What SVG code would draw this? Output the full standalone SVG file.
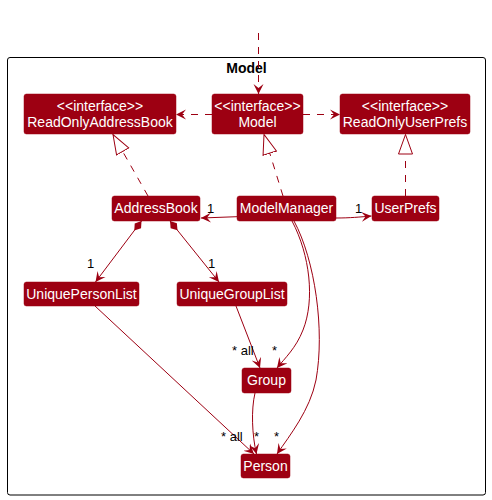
<svg xmlns="http://www.w3.org/2000/svg" width="492" height="500" viewBox="0 0 492 500">
<style>
.n rect{fill:#9D0012;stroke:#9D0012;stroke-width:0.5}
.n text{fill:#FFFFFF;font-family:"Liberation Sans",Arial,sans-serif;font-size:14px;text-anchor:middle}
.e{fill:none;stroke:#9D0012;stroke-width:1}
.d{stroke-dasharray:7,7}
.lbl{fill:#000;font-family:"Liberation Sans",Arial,sans-serif;font-size:13px}
</style>
<defs>
<marker id="arr" markerUnits="userSpaceOnUse" markerWidth="12" markerHeight="12" refX="10" refY="5" orient="auto" viewBox="0 0 12 10">
<path d="M10,5 L0,0 L4,5 L0,10 Z" fill="#9D0012"/>
</marker>
<marker id="tri" markerUnits="userSpaceOnUse" markerWidth="22" markerHeight="16" refX="20" refY="7.5" orient="auto" viewBox="0 0 22 15">
<path d="M0.5,0.5 L20,7.5 L0.5,14.5 Z" fill="#FFFFFF" stroke="#9D0012" stroke-width="1"/>
</marker>
<marker id="dia" markerUnits="userSpaceOnUse" markerWidth="13" markerHeight="9" refX="0" refY="4" orient="auto" viewBox="0 0 13 8">
<path d="M0,4 L6,0 L12,4 L6,8 Z" fill="#9D0012"/>
</marker>
</defs>
<g id="frame">
<rect x="7.5" y="57.5" width="478" height="437.5" rx="2.5" fill="none" stroke="#000" stroke-width="1"/>
<text x="246.5" y="73" font-family="Liberation Sans,Arial,sans-serif" font-size="14" font-weight="bold" text-anchor="middle" fill="#000">Model</text>
</g>
<g id="connectors">
<path class="e d" d="M258.5,33 L258.5,94" marker-end="url(#arr)"/>
<path class="e d" d="M212,114.5 L176,114.5" marker-end="url(#arr)"/>
<path class="e d" d="M303,114.5 L340,114.5" marker-end="url(#arr)"/>
<path class="e d" d="M148,196 L113,134.5" marker-end="url(#tri)"/>
<path class="e d" d="M283,196 L264,134.5" marker-end="url(#tri)"/>
<path class="e d" d="M405.5,196 L405.5,134.5" marker-end="url(#tri)"/>
<path class="e" d="M237,216.7 L201,218" marker-end="url(#arr)"/>
<path class="e" d="M336,218 C350,218 360,217 371.5,216" marker-end="url(#arr)"/>
<path class="e" d="M141.5,221 L95.5,282" marker-start="url(#dia)" marker-end="url(#arr)"/>
<path class="e" d="M170,221 L219,282" marker-start="url(#dia)" marker-end="url(#arr)"/>
<path class="e" d="M292,221 C310,255 315,300 303,330 C296,348 285,358 277,368" marker-end="url(#arr)"/>
<path class="e" d="M294,221 C315,260 325,330 316,380 C310,410 290,435 277,454" marker-end="url(#arr)"/>
<path class="e" d="M236,306 L260,368" marker-end="url(#arr)"/>
<path class="e" d="M95,306 L254,454" marker-end="url(#arr)"/>
<path class="e" d="M255,393 C251,410 252,435 256.5,454" marker-end="url(#arr)"/>
<text class="lbl" x="207" y="213">1</text>
<text class="lbl" x="355" y="213">1</text>
<text class="lbl" x="87" y="268">1</text>
<text class="lbl" x="208" y="268">1</text>
<text class="lbl" x="232" y="355">* all</text>
<text class="lbl" x="272" y="355">*</text>
<text class="lbl" x="221" y="441">* all</text>
<text class="lbl" x="254" y="441">*</text>
<text class="lbl" x="274" y="441">*</text>
</g>
<g id="ReadOnlyAddressBook" class="n"><rect x="24" y="94" width="152" height="40" rx="2.5"/><text x="100" y="111">&lt;&lt;interface&gt;&gt;</text><text x="100" y="127">ReadOnlyAddressBook</text></g>
<g id="Model" class="n"><rect x="212" y="94" width="91" height="40" rx="2.5"/><text x="257.5" y="111">&lt;&lt;interface&gt;&gt;</text><text x="257.5" y="127">Model</text></g>
<g id="ReadOnlyUserPrefs" class="n"><rect x="340" y="94" width="130" height="40" rx="2.5"/><text x="405" y="111">&lt;&lt;interface&gt;&gt;</text><text x="405" y="127">ReadOnlyUserPrefs</text></g>
<g id="AddressBook" class="n"><rect x="112" y="196" width="88" height="25" rx="2.5"/><text x="156" y="213">AddressBook</text></g>
<g id="ModelManager" class="n"><rect x="237" y="196" width="99" height="25" rx="2.5"/><text x="286.5" y="213">ModelManager</text></g>
<g id="UserPrefs" class="n"><rect x="372" y="196" width="67" height="25" rx="2.5"/><text x="405.5" y="213">UserPrefs</text></g>
<g id="UniquePersonList" class="n"><rect x="24" y="282" width="115" height="24" rx="2.5"/><text x="81.5" y="299">UniquePersonList</text></g>
<g id="UniqueGroupList" class="n"><rect x="177" y="282" width="110" height="24" rx="2.5"/><text x="232" y="299">UniqueGroupList</text></g>
<g id="Group" class="n"><rect x="242" y="368" width="49" height="25" rx="2.5"/><text x="266.5" y="385">Group</text></g>
<g id="Person" class="n"><rect x="241" y="454" width="49" height="24" rx="2.5"/><text x="265.5" y="471">Person</text></g>
</svg>
